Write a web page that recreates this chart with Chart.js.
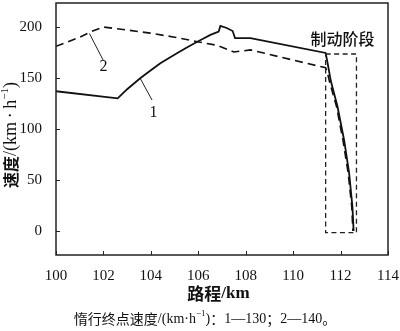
<!DOCTYPE html>
<html>
<head>
<meta charset="utf-8">
<script src="https://cdn.jsdelivr.net/npm/chart.js@4/dist/chart.umd.min.js"></script>
<style>
  html, body { margin: 0; padding: 0; background: #fff; }
  canvas { display: block; }
</style>
</head>
<body>
<canvas id="speedChart" width="400" height="331"></canvas>
<script>
// 1号曲线：惰行终点速度 130 km/h
const dist1 = [100, 102.6, 103.0, 103.55, 104.0, 104.4, 105.1, 105.5, 105.88, 106.2, 106.51, 106.86, 106.93, 107.2, 107.45, 107.55, 108.2, 111.37, 111.45, 111.59, 111.87, 112.15, 112.36, 112.5, 112.55];
const speed1 = [137, 130, 139, 149.7, 157.5, 164.4, 174.2, 179.6, 184.6, 188.5, 192.2, 195.4, 201, 199, 196, 189, 189, 174.5, 165, 147, 122, 89, 57, 24, 0];

// 2号曲线：惰行终点速度 140 km/h
const dist2 = [100, 100.5, 101.0, 101.44, 101.99, 103.0, 103.97, 105.0, 105.95, 106.8, 107.5, 108.2, 111.37, 111.45, 111.55, 111.83, 112.1, 112.32, 112.47, 112.52];
const speed2 = [181, 185.5, 190, 195, 200, 197, 194, 190, 185.6, 182, 175.5, 177.5, 160, 154.6, 145, 122, 89, 57, 24, 0];

// 制动阶段虚线框
const brakeBoxX = [111.37, 112.67, 112.67, 111.37, 111.37];
const brakeBoxY = [173.5, 173.5, -1.6, -1.6, 173.5];

// 曲线编号引线
const leader1X = [103.55, 104.05];
const leader1Y = [149.7, 128.4];
const leader2X = [101.41, 102.0];
const leader2Y = [193.6, 167];

const xTicks = [100, 102, 104, 106, 108, 110, 112, 114];
const yTicks = [0, 50, 100, 150, 200];

const toPoints = (xs, ys) => xs.map((x, i) => ({ x: x, y: ys[i] }));

const SERIF = '"Liberation Serif", "Times New Roman", serif';
const CJK = '"Noto Sans CJK SC", sans-serif';

// 分段绘制混合字体文本
function drawRich(ctx, parts, x, y, align) {
    let total = 0;
    parts.forEach(p => { ctx.font = p.font; p.w = ctx.measureText(p.t).width; total += p.w; });
    let cx = align === 'center' ? x - total / 2 : x;
    parts.forEach(p => {
        ctx.font = p.font;
        ctx.fillText(p.t, cx, y + (p.dy || 0));
        cx += p.w;
    });
}

const framePlugin = {
    id: 'frameAndLabels',
    afterDraw(chart) {
        const ctx = chart.ctx;
        const a = chart.chartArea;
        const xs = chart.scales.x;
        const ys = chart.scales.y;
        ctx.save();
        // 外框
        ctx.strokeStyle = '#222';
        ctx.lineWidth = 1.5;
        ctx.strokeRect(a.left, a.top, a.right - a.left, a.bottom - a.top);
        // 向内刻度
        ctx.lineWidth = 1;
        ctx.beginPath();
        xTicks.forEach(v => {
            const px = Math.round(xs.getPixelForValue(v)) + 0.5;
            ctx.moveTo(px, a.bottom);
            ctx.lineTo(px, a.bottom - 4);
        });
        yTicks.forEach(v => {
            const py = Math.round(ys.getPixelForValue(v)) + 0.5;
            ctx.moveTo(a.left, py);
            ctx.lineTo(a.left + 4, py);
        });
        ctx.stroke();

        ctx.fillStyle = '#111';
        ctx.textBaseline = 'middle';
        ctx.textAlign = 'left';

        // 曲线编号
        drawRich(ctx, [{ t: '1', font: '16px ' + SERIF }], xs.getPixelForValue(104.11), ys.getPixelForValue(115.5), 'center');
        drawRich(ctx, [{ t: '2', font: '16px ' + SERIF }], xs.getPixelForValue(102.0), ys.getPixelForValue(161), 'center');

        // 制动阶段
        drawRich(ctx, [{ t: '制动阶段', font: '500 16px ' + CJK }], xs.getPixelForValue(112.08), ys.getPixelForValue(188), 'center');

        // x 轴标题
        drawRich(ctx, [
            { t: '路程', font: 'bold 17px ' + CJK },
            { t: '/km', font: 'bold 17px ' + SERIF }
        ], 218.5, 294, 'center');

        // y 轴标题（竖排）
        ctx.save();
        ctx.translate(11, 135);
        ctx.rotate(-Math.PI / 2);
        drawRich(ctx, [
            { t: '速度', font: 'bold 16px ' + CJK },
            { t: '/(km\u2009·\u2009h', font: '18px ' + SERIF },
            { t: '−1', font: '11px ' + SERIF, dy: -6 },
            { t: ')', font: '18px ' + SERIF }
        ], 0, 0, 'center');
        ctx.restore();

        // 图注
        drawRich(ctx, [
            { t: '惰行终点速度', font: '14px ' + CJK },
            { t: '/(km·h', font: '14px ' + SERIF },
            { t: '−1', font: '9px ' + SERIF, dy: -5 },
            { t: ')', font: '14px ' + SERIF },
            { t: '：', font: '14px ' + CJK },
            { t: '1—130', font: '14px ' + SERIF },
            { t: '；', font: '14px ' + CJK },
            { t: '2—140', font: '14px ' + SERIF },
            { t: '。', font: '14px ' + CJK }
        ], 205, 319, 'center');
        ctx.restore();
    }
};

const thin = { borderColor: '#222', borderWidth: 1, pointRadius: 0, fill: false };

new Chart(document.getElementById('speedChart').getContext('2d'), {
    type: 'line',
    data: {
        datasets: [
            { data: toPoints(brakeBoxX, brakeBoxY), borderColor: '#222', borderWidth: 1.3, borderDash: [5, 3.5], pointRadius: 0, fill: false },
            { data: toPoints(dist2, speed2), borderColor: '#111', borderWidth: 1.6, borderDash: [8, 5], pointRadius: 0, fill: false },
            { data: toPoints(dist1, speed1), borderColor: '#111', borderWidth: 1.8, pointRadius: 0, fill: false },
            Object.assign({ data: toPoints(leader1X, leader1Y) }, thin),
            Object.assign({ data: toPoints(leader2X, leader2Y) }, thin)
        ]
    },
    options: {
        responsive: false,
        animation: false,
        devicePixelRatio: 1,
        layout: { padding: { top: 3, right: 12, left: 0, bottom: 0 } },
        plugins: { legend: { display: false }, tooltip: { enabled: false } },
        elements: { line: { tension: 0 } },
        scales: {
            x: {
                type: 'linear',
                min: 100,
                max: 114,
                grid: { display: false },
                border: { display: false },
                afterBuildTicks: s => { s.ticks = xTicks.map(v => ({ value: v })); },
                afterFit: s => { s.height = 76; s.paddingLeft = 0; s.paddingRight = 0; },
                ticks: { color: '#111', padding: 4, maxRotation: 0, font: { family: SERIF, size: 15 } }
            },
            y: {
                type: 'linear',
                min: -23.5,
                max: 223.5,
                grid: { display: false },
                border: { display: false },
                afterBuildTicks: s => { s.ticks = yTicks.map(v => ({ value: v })); },
                afterFit: s => { s.width = 56; s.paddingTop = 0; s.paddingBottom = 0; },
                ticks: { color: '#111', padding: 6, font: { family: SERIF, size: 15 } }
            }
        }
    },
    plugins: [framePlugin]
});
</script>
</body>
</html>
